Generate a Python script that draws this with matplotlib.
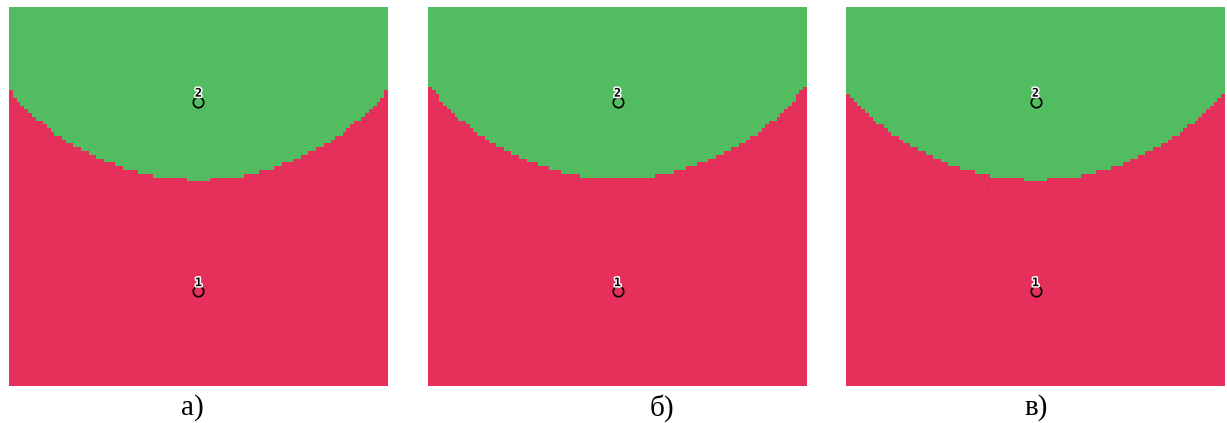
import numpy as np
import matplotlib.pyplot as plt
from matplotlib.colors import ListedColormap
import matplotlib.patheffects as pe

# two prototype points (x, y) and their class colours
points_x = [0.0, 0.0]
points_y = [-0.5, 0.5]
point_labels = ['1', '2']
class_colors = ['#e5305b', '#51bc60']

# class-2 region of each panel: disk centred at (0, cy) with radius r
region_cy = [1.379, 1.344, 1.389]
region_r = [1.290, 1.250, 1.300]
captions = ['а)', 'б)', 'в)']

# faint traces from the upper corners down past point 1
trace_x = [[-0.277, 0.071], [0.330, 0.071]]
trace_y = [[0.113, -0.610], [0.129, -0.610]]

n_cells = 100

W, H = 1227, 423
fig = plt.figure(figsize=(W / 100, H / 100), dpi=100)

panel_left = [9, 428, 846]
panel_top, panel_size = 7, 379
caption_x = [192, 662, 1036]

centers = np.linspace(-1, 1, n_cells + 1)
centers = (centers[:-1] + centers[1:]) / 2
gx, gy = np.meshgrid(centers, centers)
cmap = ListedColormap(class_colors)

for i in range(3):
    ax = fig.add_axes([panel_left[i] / W, (H - panel_top - panel_size) / H,
                       panel_size / W, panel_size / H])
    cls = (np.hypot(gx, gy - region_cy[i]) < region_r[i]).astype(int)
    ax.imshow(cls, cmap=cmap, vmin=0, vmax=1, origin='lower',
              extent=[-1, 1, -1, 1], interpolation='nearest')

    if i == 1:
        for tx, ty in zip(trace_x, trace_y):
            ax.plot(tx, ty, ls=(0, (1, 2.5)), lw=0.9, color='#b8234a', alpha=0.45)
    if i == 2:
        # only broken fragments of the traces remain
        for tx, ty in zip(trace_x, trace_y):
            for f0, f1 in [(0.0, 0.25), (0.92, 1.0)]:
                sx = [tx[0] + f0 * (tx[1] - tx[0]), tx[0] + f1 * (tx[1] - tx[0])]
                sy = [ty[0] + f0 * (ty[1] - ty[0]), ty[0] + f1 * (ty[1] - ty[0])]
                ax.plot(sx, sy, ls=(0, (1, 2)), lw=2.5, color='#c42a50', alpha=0.25)

    for k in range(2):
        ax.plot(points_x[k], points_y[k], 'o', ms=7.5, mfc=class_colors[k],
                mec='black', mew=1.2)
        ax.annotate(point_labels[k], (points_x[k], points_y[k]),
                    xytext=(0, 6.2), textcoords='offset points',
                    ha='center', va='center', fontsize=8.5, fontweight='bold',
                    family='DejaVu Sans Mono', color='black',
                    path_effects=[pe.withStroke(linewidth=2.2, foreground='white')])

    ax.set_xlim(-1, 1)
    ax.set_ylim(-1, 1)
    ax.axis('off')

    fig.text(caption_x[i] / W, (H - 408) / H, captions[i], ha='center',
             va='center', fontsize=21, family='Liberation Serif')

fig.savefig('out.png', dpi=100)
